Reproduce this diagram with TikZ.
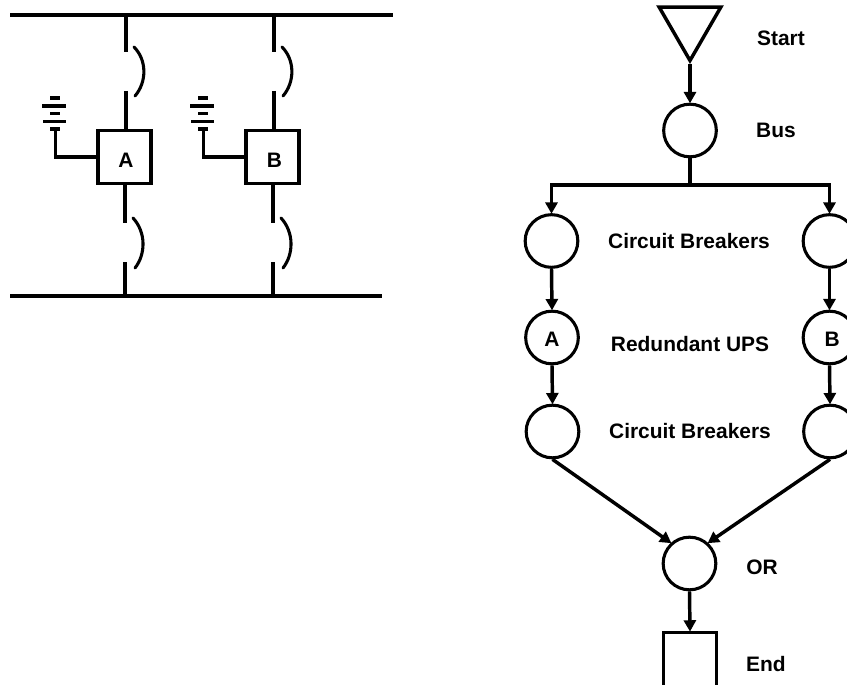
\documentclass[tikz,border=0pt]{standalone}
\usepackage{fontspec}
\setmainfont{Liberation Sans}
\usetikzlibrary{arrows.meta,shapes.geometric}
\tikzset{
  wire/.style={line width=2.6pt,line cap=butt,black},
  busbar/.style={line width=3.4pt,black},
  flow/.style={line width=2.6pt,black,-{Triangle[length=8.5pt,width=9pt]},shorten >=-0.5pt},
  flowplain/.style={line width=3pt,black},
  blade/.style={line width=2.3pt,line cap=round,black},
  ev/.style={circle,draw,line width=2.3pt,minimum size=39.5pt,inner sep=0pt},
  sq/.style={rectangle,draw,line width=2.6pt,minimum size=39.5pt,inner sep=0pt},
  txt/.style={font=\bfseries\fontsize{15.7}{18}\selectfont,inner sep=0pt},
  tri/.style={isosceles triangle,isosceles triangle apex angle=60,shape border rotate=-90,draw,line width=2.6pt,inner sep=0pt,minimum height=40pt,anchor=apex}
}
\begin{document}
\begin{tikzpicture}[x=0.75pt,y=-0.75pt]
\useasboundingbox (0,0) rectangle (847,685);
\clip (0,0) rectangle (847,685);
% left: buses
\coordinate (t1) at (10,15); \coordinate (t2) at (393,15);
\coordinate (b1) at (10,296); \coordinate (b2) at (382,296);
\draw[busbar] (t1) -- (t2);
\draw[busbar] (b1) -- (b2);
\node[sq,label={[txt,xshift=1.1pt,yshift=-2.2pt]center:A}] (A) at (124.5,157) {};
\node[sq,label={[txt,xshift=1.5pt,yshift=-2.2pt]center:B}] (B) at (272.5,157) {};
% breakers and feeders
\foreach \u/\x/\xb in {A/126/125,B/274/273}{
  \draw[wire] (\x,15) -- (\x,52);
  \draw[blade] (\x+8,47) .. controls (\x+21,60) and (\x+21,82) .. (\x+9,96);
  \draw[wire] (\x,91) -- (\x,130);
  \draw[wire] (\xb,184) -- (\xb,223);
  \draw[blade] (\xb+8,218) .. controls (\xb+21,232) and (\xb+21,254) .. (\xb+10,268);
  \draw[wire] (\xb,262) -- (\xb,296);
}
% batteries
\foreach \u/\d in {A/0,B/148}{
  \draw[wire] (50+\d,98) -- (60+\d,98);
  \draw[wire] (42+\d,106) -- (66+\d,106);
  \draw[wire] (50+\d,113.5) -- (60+\d,113.5);
  \draw[wire] (43+\d,121.5) -- (66+\d,121.5);
  \draw[wire] (50+\d,129) -- (60+\d,129);
  \coordinate (bat\u) at (55.5+\d,129);
  \draw[wire,line join=miter] (bat\u) |- (\u.west);
}
% right: events
\node[tri] (start) at (690,64) {};
\node[ev] (bus) at (690,130.5) {};
\node[ev] (cbl1) at (551.5,241) {};
\node[ev] (cbr1) at (829.5,241) {};
\node[ev,label={[txt,yshift=-1pt]center:A}] (upsa) at (552,337.5) {};
\node[ev,label={[txt,xshift=2pt,yshift=-1pt]center:B}] (upsb) at (829.5,337.5) {};
\node[ev] (cbl2) at (552.5,431.5) {};
\node[ev] (cbr2) at (830,431.5) {};
\node[ev] (orn) at (689.5,563.5) {};
\node[sq,minimum height=44pt] (endn) at (690,662) {};
\coordinate (jn) at (690,185);
\draw[flow] (start.apex) -- (bus.north);
\draw[flowplain] (bus.south) -- (jn);
\draw[flow,line join=miter] (jn) -| (cbl1.north);
\draw[flow,line join=miter] (jn) -| (cbr1.north);
\draw[flow] (cbl1.south) -- (upsa.north);
\draw[flow] (cbr1.south) -- (upsb.north);
\draw[flow] (upsa.south) -- (cbl2.north);
\draw[flow] (upsb.south) -- (cbr2.north);
\draw[flow] (cbl2.south) -- (orn.132);
\draw[flow] (cbr2.south) -- (orn.48);
\draw[flow] (orn.south) -- (endn.north);
% labels
\node[txt] (l1) at (781,38.5) {Start};
\node[txt] (l2) at (776,130.5) {Bus};
\node[txt] (l3) at (689,241.5) {Circuit Breakers};
\node[txt] (l4) at (690,344) {Redundant UPS};
\node[txt] (l5) at (690,431.5) {Circuit Breakers};
\node[txt] (l6) at (762,567) {OR};
\node[txt] (l7) at (766,664) {End};
\end{tikzpicture}
\end{document}
